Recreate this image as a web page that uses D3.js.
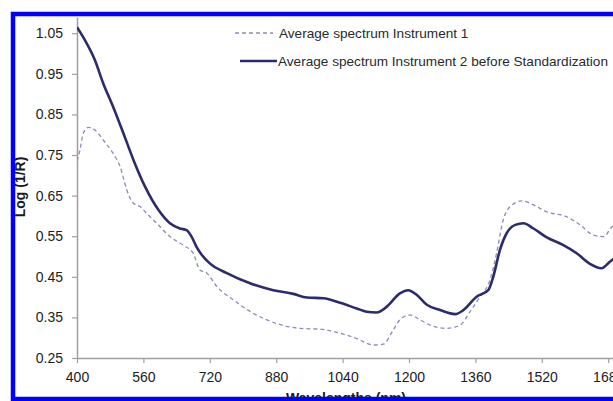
<!DOCTYPE html>
<html>
<head>
<meta charset="utf-8">
<script src="https://cdn.jsdelivr.net/npm/d3@7"></script>
<style>
  body { margin: 0; background: #fff; }
  text { font-family: "Liberation Sans", Arial, sans-serif; }
</style>
</head>
<body>
<script>
// Average spectrum Instrument 1 (dashed)
var wl1 = [400, 407, 415, 427, 443, 463, 487, 504, 520, 536, 552, 568, 592, 624, 656, 680, 696, 713, 737, 777, 825, 881, 937, 986, 1034, 1074, 1114, 1138, 1162, 1178, 1202, 1227, 1251, 1291, 1323, 1347, 1371, 1395, 1411, 1427, 1444, 1472, 1500, 1532, 1580, 1612, 1644, 1669, 1689, 1700];
var inst1 = [0.735, 0.762, 0.803, 0.818, 0.812, 0.787, 0.754, 0.721, 0.664, 0.631, 0.623, 0.606, 0.582, 0.549, 0.528, 0.508, 0.467, 0.459, 0.426, 0.393, 0.360, 0.335, 0.323, 0.321, 0.311, 0.298, 0.282, 0.284, 0.319, 0.344, 0.356, 0.344, 0.331, 0.323, 0.331, 0.364, 0.401, 0.442, 0.508, 0.590, 0.623, 0.637, 0.627, 0.610, 0.598, 0.578, 0.553, 0.549, 0.573, 0.58];

// Average spectrum Instrument 2 before Standardization (solid)
var wl2 = [400, 419, 443, 463, 487, 512, 536, 564, 596, 624, 648, 664, 676, 688, 700, 720, 761, 817, 873, 921, 954, 994, 1034, 1074, 1098, 1122, 1146, 1178, 1198, 1219, 1243, 1275, 1311, 1331, 1363, 1391, 1403, 1419, 1435, 1456, 1476, 1500, 1532, 1572, 1604, 1636, 1664, 1684, 1700];
var inst2 = [1.065, 1.033, 0.984, 0.927, 0.869, 0.803, 0.738, 0.672, 0.615, 0.582, 0.569, 0.565, 0.549, 0.524, 0.505, 0.483, 0.459, 0.434, 0.417, 0.408, 0.399, 0.397, 0.386, 0.372, 0.364, 0.362, 0.376, 0.409, 0.417, 0.405, 0.381, 0.368, 0.358, 0.368, 0.401, 0.417, 0.450, 0.516, 0.557, 0.578, 0.582, 0.569, 0.547, 0.528, 0.508, 0.482, 0.471, 0.487, 0.50];

var xTicks = [400, 560, 720, 880, 1040, 1200, 1360, 1520, 1680];
var yTicks = [0.25, 0.35, 0.45, 0.55, 0.65, 0.75, 0.85, 0.95, 1.05];
var legendLabels = ["Average spectrum Instrument 1", "Average spectrum Instrument 2 before Standardization"];

var svgWidth = 613;
var svgHeight = 401;

var svg = d3.select("body")
    .append("svg")
    .attr("width", svgWidth)
    .attr("height", svgHeight);

svg.append("rect")
    .attr("width", svgWidth)
    .attr("height", svgHeight)
    .attr("fill", "#fff");

// scales: 160 nm per ~66.4 px, 0.1 per ~40.6 px
var xScale = d3.scaleLinear()
    .domain([400, 1700])
    .range([77, 77 + 1300 / 160 * 66.4]);

var yScale = d3.scaleLinear()
    .domain([0.25, 1.09])
    .range([358, 17]);

svg.append("clipPath")
    .attr("id", "plot-clip")
    .append("rect")
    .attr("x", 77)
    .attr("y", 15)
    .attr("width", 600)
    .attr("height", 345);

// axes
var bottomAxis = d3.axisBottom(xScale)
    .tickValues(xTicks)
    .tickFormat(d3.format("d"))
    .tickSizeInner(5)
    .tickSizeOuter(0)
    .tickPadding(9);

var leftAxis = d3.axisLeft(yScale)
    .tickValues(yTicks)
    .tickFormat(d3.format(".2f"))
    .tickSizeInner(5)
    .tickSizeOuter(0)
    .tickPadding(9);

var xAxisG = svg.append("g")
    .attr("transform", "translate(0, 358)")
    .call(bottomAxis);

var yAxisG = svg.append("g")
    .attr("transform", "translate(77, 0)")
    .call(leftAxis);

[xAxisG, yAxisG].forEach(function (g) {
    g.select(".domain").attr("stroke", "#a0a0a0").attr("stroke-width", 1.5);
    g.selectAll(".tick line").attr("stroke", "#a0a0a0").attr("stroke-width", 1.2);
    g.selectAll(".tick text")
        .attr("fill", "#1c1c1c")
        .style("font-size", "14px")
        .style("font-family", "'Liberation Sans', Arial, sans-serif");
});

// spectra
var line = d3.line()
    .x(d => xScale(d[0]))
    .y(d => yScale(d[1]))
    .curve(d3.curveMonotoneX);

var plot = svg.append("g").attr("clip-path", "url(#plot-clip)");

plot.append("path")
    .datum(d3.zip(wl1, inst1))
    .attr("d", line)
    .attr("fill", "none")
    .attr("stroke", "#8c8cb4")
    .attr("stroke-width", 1.3)
    .attr("stroke-dasharray", "4,3");

plot.append("path")
    .datum(d3.zip(wl2, inst2))
    .attr("d", line)
    .attr("fill", "none")
    .attr("stroke", "#2c2c6c")
    .attr("stroke-width", 2.6);

// legend
var legend = svg.append("g");

legend.append("line")
    .attr("x1", 235).attr("x2", 273)
    .attr("y1", 33).attr("y2", 33)
    .attr("stroke", "#8c8cb4")
    .attr("stroke-width", 1.3)
    .attr("stroke-dasharray", "4,3");

legend.append("text")
    .attr("x", 279)
    .attr("y", 33)
    .attr("dy", "0.35em")
    .attr("fill", "#2a2a2a")
    .style("font-size", "13.6px")
    .text(legendLabels[0]);

legend.append("line")
    .attr("x1", 240).attr("x2", 277)
    .attr("y1", 61).attr("y2", 61)
    .attr("stroke", "#2c2c6c")
    .attr("stroke-width", 2.6);

legend.append("text")
    .attr("x", 278)
    .attr("y", 61)
    .attr("dy", "0.35em")
    .attr("fill", "#2a2a2a")
    .style("font-size", "13.6px")
    .text(legendLabels[1]);

// axis titles
svg.append("text")
    .attr("transform", "translate(25, 187) rotate(-90)")
    .attr("text-anchor", "middle")
    .attr("fill", "#1a1a1a")
    .style("font-size", "14px")
    .style("font-weight", "bold")
    .text("Log (1/R)");

svg.append("text")
    .attr("x", 346)
    .attr("y", 403)
    .attr("text-anchor", "middle")
    .attr("fill", "#1a1a1a")
    .style("font-size", "14px")
    .style("font-weight", "bold")
    .text("Wavelengths (nm)");

// blue frame drawn last so it covers the titles' edges
svg.append("rect")
    .attr("x", 13)
    .attr("y", 14)
    .attr("width", 640)
    .attr("height", 385)
    .attr("fill", "none")
    .attr("stroke", "#0000ff")
    .attr("stroke-width", 4.5);
</script>
</body>
</html>
